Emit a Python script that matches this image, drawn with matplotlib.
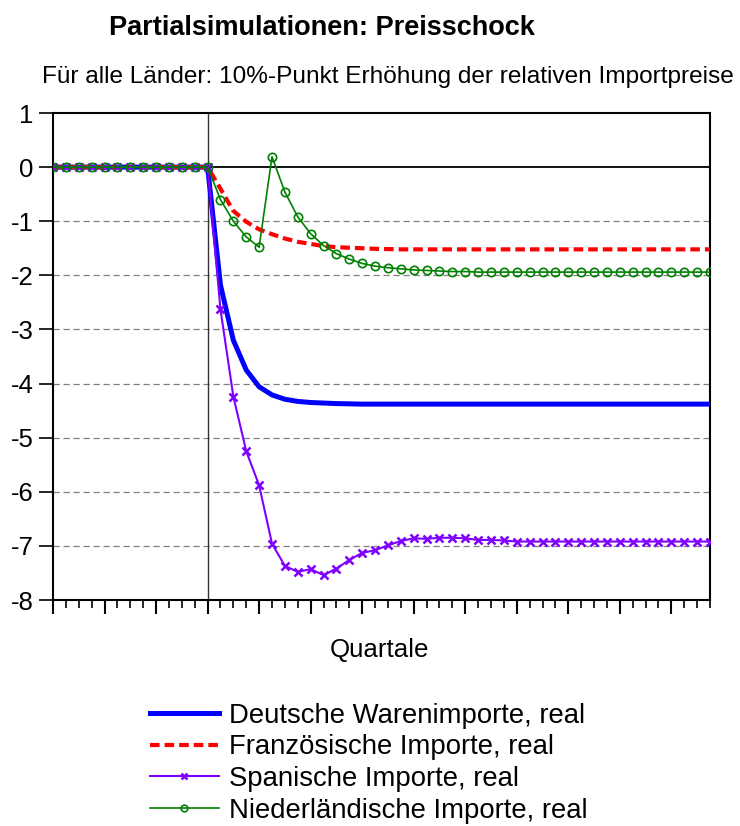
import matplotlib
matplotlib.use("Agg")
import matplotlib.pyplot as plt
import numpy as np

plt.rcParams['font.family'] = ['Liberation Sans', 'DejaVu Sans']

title = "Partialsimulationen: Preisschock"
subtitle = "Für alle Länder: 10%-Punkt Erhöhung der relativen Importpreise"
xlabel = "Quartale"
series_names = ["Deutsche Warenimporte, real",
                "Französische Importe, real",
                "Spanische Importe, real",
                "Niederländische Importe, real"]

pre = [0.0] * 13
deutsch = pre + [-2.18, -3.20, -3.75, -4.06, -4.21, -4.29, -4.33, -4.35, -4.36, -4.37,
                 -4.375, -4.38, -4.38, -4.38, -4.38, -4.38, -4.38, -4.38, -4.38, -4.38,
                 -4.38, -4.38, -4.38, -4.38, -4.38, -4.38, -4.38, -4.38, -4.38, -4.38,
                 -4.38, -4.38, -4.38, -4.38, -4.38, -4.38, -4.38, -4.38, -4.38]
franz = pre + [-0.40, -0.81, -1.01, -1.15, -1.24, -1.32, -1.38, -1.42, -1.46, -1.48,
               -1.49, -1.50, -1.51, -1.515, -1.52, -1.52, -1.52, -1.52, -1.52, -1.52,
               -1.52, -1.52, -1.52, -1.52, -1.52, -1.52, -1.52, -1.52, -1.52, -1.52,
               -1.52, -1.52, -1.52, -1.52, -1.52, -1.52, -1.52, -1.52, -1.52]
spanien = pre + [-2.63, -4.24, -5.25, -5.88, -6.96, -7.37, -7.48, -7.43, -7.54, -7.42,
                 -7.26, -7.13, -7.08, -6.99, -6.91, -6.86, -6.87, -6.85, -6.85, -6.86,
                 -6.89, -6.89, -6.90, -6.92, -6.92, -6.92, -6.92, -6.92, -6.92, -6.92,
                 -6.92, -6.92, -6.92, -6.92, -6.92, -6.92, -6.92, -6.92, -6.92]
nl = pre + [-0.60, -1.00, -1.29, -1.48, 0.19, -0.46, -0.92, -1.23, -1.45, -1.60,
            -1.70, -1.78, -1.83, -1.86, -1.88, -1.90, -1.91, -1.92, -1.93, -1.93,
            -1.94, -1.94, -1.94, -1.94, -1.94, -1.94, -1.94, -1.94, -1.94, -1.94,
            -1.94, -1.94, -1.94, -1.94, -1.94, -1.94, -1.94, -1.94, -1.94]

x = np.arange(len(deutsch))
shock_index = 12
yticks = [1, 0, -1, -2, -3, -4, -5, -6, -7, -8]

fig = plt.figure(figsize=(7.4, 8.26), dpi=100)
ax = fig.add_axes([53/740, 1-600/826, (710-53)/740, (600-113)/826])

for yv in range(-7, 0):
    ax.axhline(yv, color='#808080', lw=0.9, ls=(0, (5, 3)), zorder=1)
ax.axhline(0, color='black', lw=1.3, zorder=1)
ax.axvline(shock_index, color='#333333', lw=1.0, zorder=1)

ax.plot(x, deutsch, color='#0000FF', lw=3.6, label=series_names[0], zorder=3)
ax.plot(x, franz, color='#FF0000', lw=3.0, ls=(0, (2.3, 1.2)), label=series_names[1], zorder=3)
ax.plot(x, spanien, color='#7F00FF', lw=1.5, marker='x', ms=6, mew=1.8,
        label=series_names[2], zorder=4)
ax.plot(x, nl, color='#008000', lw=1.2, marker='o', ms=6, mfc='none', mew=1.2,
        label=series_names[3], zorder=5)

ax.set_xlim(0, len(x) - 1)
ax.set_ylim(-8, 1)
ax.set_yticks(yticks)
ax.set_yticklabels([str(v) for v in yticks], fontsize=18.5)
ax.set_xticks(np.arange(0, len(x), 4))
ax.set_xticks(np.arange(0, len(x), 1), minor=True)
ax.set_xticklabels([])
ax.tick_params(axis='y', direction='out', length=10, width=1.2, pad=4)
ax.tick_params(axis='x', which='major', direction='out', length=10, width=1.5)
ax.tick_params(axis='x', which='minor', direction='out', length=6, width=1.2)
for s in ax.spines.values():
    s.set_linewidth(1.5)

fig.text(322/740, 1-28/826, title, ha='center', va='center', fontsize=19.5, fontweight='bold')
fig.text(387.5/740, 1-77/826, subtitle, ha='center', va='center', fontsize=17.6)
fig.text(379/740, 1-650/826, xlabel, ha='center', va='center', fontsize=18.6)

h, l = ax.get_legend_handles_labels()
fig.legend(h, l, loc='upper left', bbox_to_anchor=(150/740, 1-703/826), frameon=False,
           fontsize=19.8, handlelength=2.5, handletextpad=0.36, labelspacing=0.2,
           borderpad=0, borderaxespad=0, markerscale=0.8)

fig.savefig('out.png', dpi=100)
